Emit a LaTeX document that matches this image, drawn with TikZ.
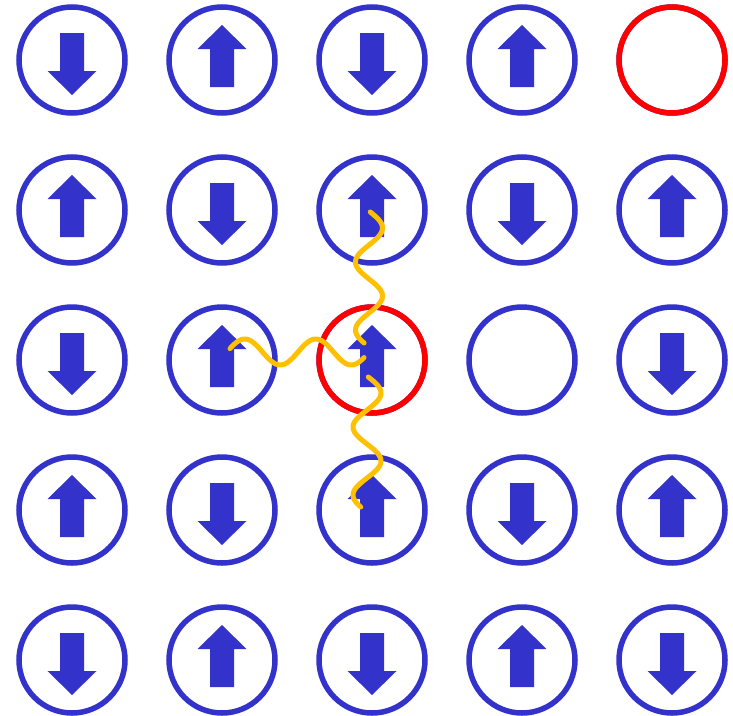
\documentclass[tikz,border=0pt]{standalone}
\definecolor{spinblue}{HTML}{3333CC}
\definecolor{holered}{HTML}{FF0000}
\definecolor{waveorange}{HTML}{FFC000}
\tikzset{
  site/.style={circle, draw=spinblue, line width=5.5pt, minimum size=106pt, inner sep=0pt},
  holesite/.style={site, draw=holered},
  spinfill/.style={fill=spinblue},
  wave/.style={draw=waveorange, line width=5pt, line cap=round, line join=round}
}
\begin{document}
\begin{tikzpicture}[x=1pt,y=-1pt]
\useasboundingbox (0,0) rectangle (733,715);
% grid of sites
\foreach \r in {0,...,4}{
  \foreach \c in {0,...,4}{
    \pgfmathsetmacro{\xx}{72+150*\c}
    \pgfmathsetmacro{\yy}{60+150*\r}
    \node[site] (s\r\c) at (\xx,\yy) {};
  }
}
% hole sites (red)
\node[holesite] (h04) at (s04.center) {};
\node[holesite] (h22) at (s22.center) {};
% spins: u = up, d = down
\foreach \name/\dir in {s00/d,s01/u,s02/d,s03/u,
                        s10/u,s11/d,s12/u,s13/d,s14/u,
                        s20/d,s21/u,s22/u,s24/d,
                        s30/u,s31/d,s32/u,s33/d,s34/u,
                        s40/d,s41/u,s42/d,s43/u,s44/d}{
  \if\dir u
    \fill[spinfill, shift={(\name.center)}] (0,-35) -- (24.5,-11) -- (12,-11) -- (12,27) -- (-12,27) -- (-12,-11) -- (-24.5,-11) -- cycle;
  \else
    \fill[spinfill, shift={(\name.center)}] (0,35) -- (24.5,11) -- (12,11) -- (12,-27) -- (-12,-27) -- (-12,11) -- (-24.5,11) -- cycle;
  \fi
}
% wavy interactions
\draw[wave] plot[domain=212:343, samples=120, smooth] ({369+13.5*sin(((\x-211)/68)*360)}, \x);
\draw[wave] plot[domain=230:364, samples=120, smooth] (\x, {352-13*sin(((\x-227)/71)*360)});
\draw[wave] plot[domain=377:507, samples=120, smooth] ({367+14*sin(((\x-376)/68)*360)}, \x);
\end{tikzpicture}
\end{document}
